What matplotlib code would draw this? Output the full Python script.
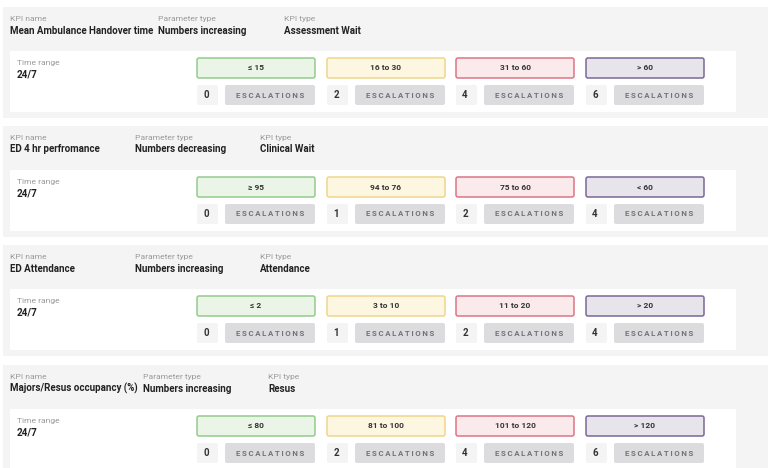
import matplotlib.pyplot as plt
from matplotlib.patches import FancyBboxPatch, Rectangle

plt.rcParams['font.family'] = ['Roboto', 'DejaVu Sans']

# Data
kpi_names = ['Mean Ambulance Handover time', 'ED 4 hr perfromance',
             'ED Attendance', 'Majors/Resus occupancy (%)']
param_types = ['Numbers increasing', 'Numbers decreasing',
               'Numbers increasing', 'Numbers increasing']
kpi_types = ['Assessment Wait', 'Clinical Wait', 'Attendance', 'Resus']
time_ranges = ['24/7', '24/7', '24/7', '24/7']
thresholds = [['≤ 15', '16 to 30', '31 to 60', '> 60'],
              ['≥ 95', '94 to 76', '75 to 60', '< 60'],
              ['≤ 2', '3 to 10', '11 to 20', '> 20'],
              ['≤ 80', '81 to 100', '101 to 120', '> 120']]
escalations = [[0, 2, 4, 6],
               [0, 1, 2, 4],
               [0, 1, 2, 4],
               [0, 2, 4, 6]]

# Layout (pixels)
card_top = [7, 126, 245, 365]
param_x = [158, 135, 135, 143]
kpitype_x = [284, 260, 260, 268]
level_x = [197, 327, 456, 586]
level_w = 118
fills = ['#eaf5e7', '#fdf6e1', '#fbeaec', '#e7e4ec']
edges = ['#93cc8b', '#efd68a', '#de7584', '#7b6897']

lab_c = '#9b9b9b'
val_c = '#222222'

fig = plt.figure(figsize=(7.68, 4.68), dpi=100)
ax = fig.add_axes([0, 0, 1, 1])
ax.set_xlim(0, 768)
ax.set_ylim(468, 0)
ax.axis('off')


def box(x, y, w, h, fc, ec='none', lw=0, r=2, z=1):
    p = FancyBboxPatch((x + r, y + r), w - 2 * r, h - 2 * r,
                       boxstyle='round,pad=%g' % r, fc=fc, ec=ec, lw=lw, zorder=z)
    ax.add_patch(p)


for i, top in enumerate(card_top):
    # outer grey card and inner white panel
    ax.add_patch(Rectangle((3, top), 765, 111, fc='#f4f4f4', ec='none', zorder=0))
    ax.add_patch(Rectangle((10, top + 44), 726, 61, fc='white', ec='none', zorder=0.5))

    # header labels
    for x, lab, val in [(10, 'KPI name', kpi_names[i]),
                        (param_x[i], 'Parameter type', param_types[i]),
                        (kpitype_x[i], 'KPI type', kpi_types[i])]:
        ax.text(x, top + 12, lab, fontsize=6.1, color=lab_c, va='center')
        ax.text(x, top + 23.5, val, fontsize=7.0, color=val_c, va='center',
                fontweight='bold')

    ax.text(17, top + 56, 'Time range', fontsize=6.1, color=lab_c, va='center')
    ax.text(17, top + 67.5, time_ranges[i], fontsize=7.1, color=val_c,
            va='center', fontweight='bold')

    for j in range(4):
        x = level_x[j]
        box(x, top + 51, level_w, 20, fills[j], edges[j], 1.1, r=2, z=2)
        ax.text(x + level_w / 2, top + 61, thresholds[i][j], fontsize=6.0,
                color='#333333', ha='center', va='center', fontweight='bold', zorder=3)
        # escalation count and button
        box(x, top + 78, 21, 20, '#f4f4f4', r=2, z=2)
        ax.text(x + 9, top + 88, str(escalations[i][j]), fontsize=7.0,
                color='#333333', ha='center', va='center', fontweight='bold', zorder=3)
        box(x + 28, top + 78, level_w - 28, 20, '#dcdcdf', r=2, z=2)
        ax.text(x + 28 + (level_w - 28) / 2, top + 88, '\u2009'.join('ESCALATIONS'),
                fontsize=5.7, color='#727278', ha='center', va='center',
                fontweight='bold', zorder=3)

fig.savefig('out.png', dpi=100)
